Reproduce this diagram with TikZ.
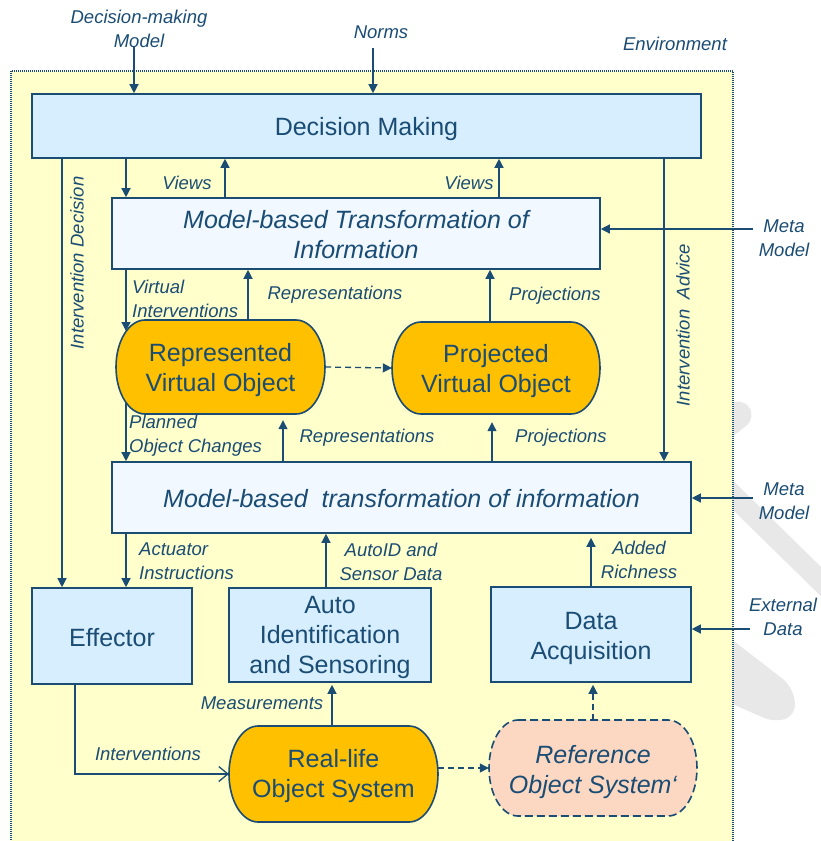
\documentclass[tikz,border=0pt]{standalone}
\usepackage{fontspec}
\setmainfont{Liberation Sans}
\usetikzlibrary{arrows.meta,calc}

\definecolor{ink}{RGB}{26,76,116}
\definecolor{envyellow}{RGB}{255,255,204}
\definecolor{boxblue}{RGB}{214,238,254}
\definecolor{paleblue}{RGB}{241,248,255}
\definecolor{objorange}{RGB}{255,192,0}
\definecolor{refpeach}{RGB}{252,215,194}
\definecolor{wmgray}{RGB}{232,232,232}

% capsule outline: [style]{cx}{cy}{half width}{half height}{corner x radius}
\newcommand\capsulepath[6][]{%
  \path[#1] (#2-#4+#6,#3-#5) -- (#2+#4-#6,#3-#5)
    arc[start angle=90,end angle=-90,x radius=#6pt,y radius=#5pt]
    -- (#2-#4+#6,#3+#5)
    arc[start angle=270,end angle=90,x radius=#6pt,y radius=#5pt] -- cycle;}

\begin{document}
\begin{tikzpicture}[x=1pt,y=-1pt,
  bigtext/.style={font=\fontsize{25}{30}\selectfont, text=ink, align=center, inner sep=0pt},
  bigital/.style={font=\fontsize{25}{30}\selectfont\itshape, text=ink, align=center, inner sep=0pt},
  lbl/.style={font=\fontsize{18.5}{24}\selectfont\itshape, text=ink, inner sep=0pt},
  rectbox/.style={draw=ink, line width=1.6pt, inner sep=0pt},
  shapeonly/.style={inner sep=0pt},
  arr/.style={draw=ink, line width=1.3pt, -{Triangle[length=9pt,width=9pt]}},
  dasharr/.style={arr, dash pattern=on 6pt off 4pt},
  openarr/.style={draw=ink, line width=1.3pt, -{Straight Barb[length=9pt,width=15pt,line width=1.3pt]}},
  wm/.style={draw=wmgray, line cap=round}]

\useasboundingbox (0,0) rectangle (821,841);
\clip (0,0) rectangle (821,841);

% faint watermark strokes behind the environment frame
\draw[wm, line width=27pt] (700,445) -- (738,415);
\draw[wm, line width=21pt] (700,463) -- (850,610);
\fill[wmgray, rounded corners=12pt] (700,615) -- (792,686) -- (797,714) -- (776,723) -- (700,690) -- cycle;

% environment frame
\path[fill=envyellow, draw=ink, line width=1.2pt, dash pattern=on 1pt off 1pt] (11,71) rectangle (733,860);
\node[lbl] (env) at (675,44) {Environment};

% inputs from the environment
\node[lbl, align=center] (dmmodel) at (139,29) {Decision-making\\Model};
\node[lbl] (norms) at (381,32) {Norms};
\node[lbl, align=center] (meta1) at (784,238) {Meta\\Model};
\node[lbl, align=center] (meta2) at (784,501) {Meta\\Model};
\node[lbl, align=center] (ext) at (783,617) {External\\Data};
\coordinate (dmmin) at (134,47);
\coordinate (normin) at (373,48);
\coordinate (meta1in) at (753,229);
\coordinate (meta2in) at (753,498);
\coordinate (extin) at (750,629);

% boxes
\node[rectbox, fill=boxblue, minimum width=669pt, minimum height=64pt] (dm) at (366.5,126) {};
\node[rectbox, fill=paleblue, minimum width=488pt, minimum height=71pt] (mbt1) at (356,233.5) {};
\node[rectbox, fill=paleblue, minimum width=579pt, minimum height=71pt] (mbt2) at (401.5,497.5) {};
\node[rectbox, fill=boxblue, minimum width=160pt, minimum height=96pt] (eff) at (112,636) {};
\node[rectbox, fill=boxblue, minimum width=202pt, minimum height=94pt] (ais) at (330,635) {};
\node[rectbox, fill=boxblue, minimum width=200pt, minimum height=95pt] (da) at (591,634.5) {};

% capsules
\capsulepath[fill=objorange, draw=ink, line width=1.6pt]{220.5}{367}{104.5}{47}{29}
\node[shapeonly, minimum width=209pt, minimum height=94pt] (rvo) at (220.5,367) {};
\capsulepath[fill=objorange, draw=ink, line width=1.6pt]{496}{368}{104}{46}{29}
\node[shapeonly, minimum width=208pt, minimum height=92pt] (pvo) at (496,368) {};
\capsulepath[fill=objorange, draw=ink, line width=1.6pt]{333.5}{774}{104.5}{48}{29}
\node[shapeonly, minimum width=209pt, minimum height=96pt] (rlos) at (333.5,774) {};
\capsulepath[fill=refpeach, draw=ink, line width=1.6pt, dash pattern=on 8pt off 4pt]{593}{768}{104}{48}{29}
\node[shapeonly, minimum width=208pt, minimum height=96pt] (ros) at (593,768) {};

% box texts
\node[bigtext] (dmtxt) at ([yshift=-3.5pt]dm.center) {Decision Making};
\node[bigital] (mbt1txt) at ([yshift=-1pt]mbt1.center) {Model-based Transformation of\\Information};
\node[bigital] (mbt2txt) at ([yshift=-1pt]mbt2.center) {Model-based\ \ transformation of information};
\node[bigtext] (efftxt) at ([yshift=-2pt]eff.center) {Effector};
\node[bigtext] (aistxt) at ([yshift=-2pt]ais.center) {Auto\\Identification\\and Sensoring};
\node[bigtext] (datxt) at ([yshift=-3.5pt]da.center) {Data\\Acquisition};
\node[bigtext] (rvotxt) at ([yshift=-3pt]rvo.center) {Represented\\Virtual Object};
\node[bigtext] (pvotxt) at ([yshift=-3pt]pvo.center) {Projected\\Virtual Object};
\node[bigtext] (rlostxt) at ([yshift=-2pt]rlos.center) {Real-life\\Object System};
\node[bigital] (rostxt) at ([yshift=-4pt]ros.center) {Reference\\Object System‘};

% connector columns
\coordinate (xL) at (126,0);
\coordinate (xV1) at (225,0);
\coordinate (xV2) at (499,0);
\coordinate (xID) at (62,0);
\coordinate (xIA) at (664,0);
\coordinate (xR1) at (248,0);
\coordinate (xP1) at (490,0);
\coordinate (xR2) at (283,0);
\coordinate (xP2) at (492,0);
\coordinate (xA) at (326,0);
\coordinate (xM) at (332,0);
\coordinate (xE) at (75,0);
\coordinate (rvoVI) at (126,331);
\coordinate (rvoPOC) at (126,402);

% connectors
\draw[arr] (dmmin) -- (dm.north -| dmmin);
\draw[arr] (normin) -- (dm.north -| normin);
\draw[arr] (dm.south -| xL) -- (mbt1.north -| xL);
\draw[arr] (mbt1.north -| xV1) -- (dm.south -| xV1);
\draw[arr] (mbt1.north -| xV2) -- (dm.south -| xV2);
\draw[arr] (dm.south -| xID) -- (eff.north -| xID);
\draw[arr] (dm.south -| xIA) -- (mbt2.north -| xIA);
\draw[arr] (meta1in) -- (mbt1.east |- meta1in);
\draw[arr] (mbt1.south -| xL) -- (rvoVI);
\draw[arr] (rvo.north -| xR1) -- (mbt1.south -| xR1);
\draw[arr] (pvo.north -| xP1) -- (mbt1.south -| xP1);
\draw[dasharr] (rvo.east) -- (pvo.west);
\draw[arr] (rvoPOC) -- (mbt2.north -| xL);
\draw[arr, shorten >=6pt] (mbt2.north -| xR2) -- (rvo.south -| xR2);
\draw[arr, shorten >=8pt] (mbt2.north -| xP2) -- (pvo.south -| xP2);
\draw[arr] (meta2in) -- (mbt2.east |- meta2in);
\draw[arr] (mbt2.south -| xL) -- (eff.north -| xL);
\draw[arr] (ais.north -| xA) -- (mbt2.south -| xA);
\draw[arr, shorten >=4pt] (da.north) -- (mbt2.south -| da.north);
\draw[arr] (extin) -- (da.east |- extin);
\draw[arr, shorten >=2pt] (rlos.north -| xM) -- (ais.south -| xM);
\draw[openarr] (eff.south -| xE) |- (rlos.west);
\draw[dasharr] (rlos.east |- ros.west) -- (ros.west);
\draw[dasharr, shorten >=2pt] (ros.north) -- (da.south -| ros.north);

% connector labels
\node[lbl] (lviews1) at (187,183) {Views};
\node[lbl] (lviews2) at (469,183) {Views};
\node[lbl, rotate=90] (lidec) at (77,263) {Intervention Decision};
\node[lbl, rotate=90] (liadv) at (683,325) {Intervention\ \ Advice};
\node[lbl, align=left, anchor=west] (lvint) at (132,299) {Virtual\\Interventions};
\node[lbl] (lrep1) at (335,295) {Representations};
\node[lbl] (lproj1) at (555,296) {Projections};
\node[lbl, align=left, anchor=west] (lplan) at (129,436) {Planned\\Object Changes};
\node[lbl] (lrep2) at (367,438) {Representations};
\node[lbl] (lproj2) at (561,438) {Projections};
\node[lbl, align=left, anchor=west] (lact) at (139,561) {Actuator\\Instructions};
\node[lbl, align=center] (lauto) at (391,562) {AutoID and\\Sensor Data};
\node[lbl, align=center] (ladd) at (639,560) {Added\\Richness};
\node[lbl] (lmeas) at (262,703) {Measurements};
\node[lbl] (linterv) at (148,754) {Interventions};
\end{tikzpicture}
\end{document}
